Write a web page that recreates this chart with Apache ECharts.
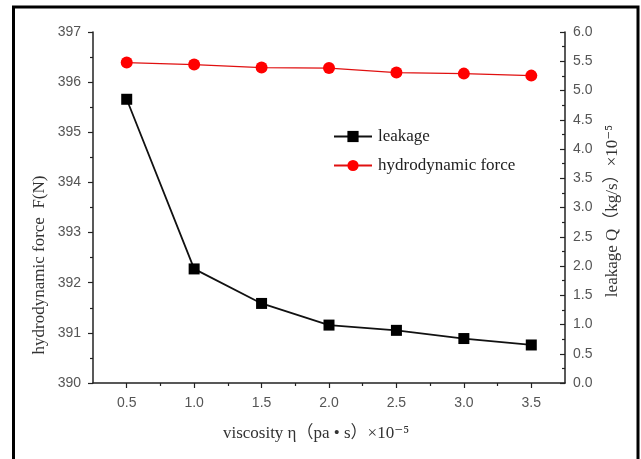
<!DOCTYPE html>
<html>
<head>
<meta charset="utf-8">
<script src="https://cdn.jsdelivr.net/npm/echarts@6/dist/echarts.min.js"></script>
<style>
  html, body { margin: 0; padding: 0; background: #fff; }
  #chart { width: 641px; height: 459px; }
</style>
</head>
<body>
<div id="chart"></div>
<script>
// Viscosity values (×10^-5 pa·s)
const viscosity = [0.5, 1.0, 1.5, 2.0, 2.5, 3.0, 3.5];
// Leakage Q (kg/s ×10^-5), right axis
const leakage = [4.85, 1.95, 1.36, 0.99, 0.90, 0.76, 0.65];
// Hydrodynamic force F (N), left axis
const force = [396.39, 396.35, 396.29, 396.28, 396.19, 396.17, 396.13];
// Bottom axis tick positions
const xMajorTicks = [0.5, 1.0, 1.5, 2.0, 2.5, 3.0, 3.5];
const xMinorTicks = [0.75, 1.25, 1.75, 2.25, 2.75, 3.25];

const chart = echarts.init(document.getElementById('chart'), null, { renderer: 'canvas' });

const serif = '"Liberation Serif", "DejaVu Serif", "Noto Sans CJK SC", serif';
const sans = '"Liberation Sans", Arial, sans-serif';
const axisColor = '#222';
const labelColor = '#555';

const pairs = (xs, ys) => xs.map((x, i) => [x, ys[i]]);

const option = {
  backgroundColor: '#fff',
  animation: false,
  grid: { left: 93, right: 76, top: 32, bottom: 76, containLabel: false },
  legend: {
    data: ['leakage', 'hydrodynamic force'],
    orient: 'vertical',
    left: 328,
    top: 123,
    itemWidth: 38,
    itemHeight: 14,
    itemGap: 12,
    textStyle: { fontFamily: serif, fontSize: 17, color: '#222', padding: [0, 0, 0, 1] }
  },
  xAxis: [
    {
      type: 'value',
      min: 0.25,
      max: 3.75,
      axisLine: { show: true, lineStyle: { color: axisColor, width: 1.5 } },
      axisTick: { show: true, length: 5, customValues: xMajorTicks, lineStyle: { color: axisColor, width: 1.2 } },
      axisLabel: {
        customValues: xMajorTicks,
        margin: 13,
        color: labelColor,
        fontFamily: sans,
        fontSize: 14,
        formatter: v => v.toFixed(1)
      },
      splitLine: { show: false }
    },
    {
      type: 'value',
      min: 0.25,
      max: 3.75,
      position: 'bottom',
      axisLine: { show: false },
      axisTick: { show: true, length: 3, customValues: xMinorTicks, lineStyle: { color: axisColor, width: 1.2 } },
      axisLabel: { show: false },
      splitLine: { show: false }
    }
  ],
  yAxis: [
    {
      type: 'value',
      min: 390,
      max: 397,
      interval: 1,
      position: 'left',
      axisLine: { show: true, lineStyle: { color: axisColor, width: 1.5 } },
      axisTick: { show: true, length: 5, lineStyle: { color: axisColor, width: 1.2 } },
      minorTick: { show: true, splitNumber: 2, length: 3, lineStyle: { color: axisColor, width: 1.2 } },
      axisLabel: { margin: 12, color: labelColor, fontFamily: sans, fontSize: 14 },
      splitLine: { show: false }
    },
    {
      type: 'value',
      min: 0,
      max: 6,
      interval: 0.5,
      position: 'right',
      axisLine: { show: true, lineStyle: { color: axisColor, width: 1.5 } },
      axisTick: { show: true, inside: true, length: 5, lineStyle: { color: axisColor, width: 1.2 } },
      minorTick: { show: true, splitNumber: 2, length: 3, lineStyle: { color: axisColor, width: 1.2 } },
      axisLabel: { margin: 8, color: labelColor, fontFamily: sans, fontSize: 14, formatter: v => v.toFixed(1) },
      splitLine: { show: false }
    }
  ],
  series: [
    {
      name: 'leakage',
      type: 'line',
      xAxisIndex: 0,
      yAxisIndex: 1,
      data: pairs(viscosity, leakage),
      symbol: 'rect',
      symbolSize: 11,
      itemStyle: { color: '#000' },
      lineStyle: { color: '#111', width: 1.8 },
      z: 3
    },
    {
      name: 'hydrodynamic force',
      type: 'line',
      xAxisIndex: 0,
      yAxisIndex: 0,
      data: pairs(viscosity, force),
      symbol: 'circle',
      symbolSize: 12,
      itemStyle: { color: '#ff0000' },
      lineStyle: { color: '#e01010', width: 1.3 },
      z: 3
    }
  ],
  graphic: [
    {
      type: 'polyline',
      shape: { points: [[13.5, 470], [13.5, 7], [638, 7], [638, 470]] },
      style: { stroke: '#000', lineWidth: 3, fill: null },
      silent: true
    },
    {
      type: 'text',
      x: 40,
      y: 265,
      rotation: Math.PI / 2,
      style: {
        text: 'hydrodynamic force  F(N)',
        font: '17px ' + serif,
        fill: '#333',
        align: 'center',
        verticalAlign: 'middle'
      }
    },
    {
      type: 'text',
      x: 613,
      y: 211,
      rotation: Math.PI / 2,
      style: {
        text: 'leakage Q（kg/s）×10⁻⁵',
        font: '17px ' + serif,
        fill: '#333',
        align: 'center',
        verticalAlign: 'middle'
      }
    },
    {
      type: 'text',
      x: 316,
      y: 434,
      style: {
        text: 'viscosity η（pa • s）×10⁻⁵',
        font: '17px ' + serif,
        fill: '#333',
        align: 'center',
        verticalAlign: 'middle'
      }
    }
  ]
};

chart.setOption(option);
</script>
</body>
</html>
